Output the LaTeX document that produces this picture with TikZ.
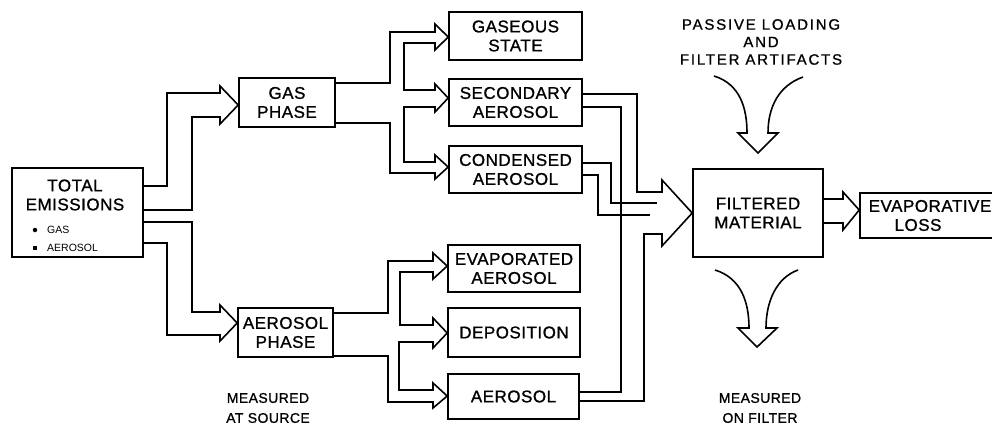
\documentclass[tikz,border=0pt]{standalone}
\usepackage{fontspec}
\setmainfont{Liberation Sans}
\newfontfamily\boxfont[LetterSpace=3,FakeBold=1]{Liberation Sans}
\newfontfamily\notefont[LetterSpace=12,FakeBold=1]{Liberation Sans}
\begin{document}
\begin{tikzpicture}[x=1pt,y=-1pt,
  flow/.style={line width=1.6pt, line join=miter},
  stage/.style={draw, line width=1.6pt, inner sep=0pt, align=center,
    font=\boxfont\fontsize{17}{19}\selectfont},
  caption/.style={inner sep=0pt, align=center, font=\boxfont\fontsize{14}{20}\selectfont},
  legend/.style={inner sep=0pt, anchor=west, font=\fontsize{10.5}{12}\selectfont}]
\useasboundingbox (0,0) rectangle (992,432);

% source box with its legend
\node[draw, line width=1.6pt, minimum width=131pt, minimum height=89pt] (tot) at (77.5,212.5) {};
\node[stage, draw=none] (totname) at (75,195) {TOTAL\\EMISSIONS};
\node[circle, fill, inner sep=0pt, minimum size=4.5pt] (gasdot) at (35,230) {};
\node[legend] (gastxt) at (47,230) {GAS};
\node[rectangle, fill, inner sep=0pt, minimum size=4pt] (aerdot) at (35,248) {};
\node[legend] (aertxt) at (47,248) {AEROSOL};

% phases
\node[stage, minimum width=96pt, minimum height=49pt] (gas) at (287,102.5) {GAS\\PHASE};
\node[stage, minimum width=95pt, minimum height=49pt] (aer) at (285.5,332.5) {AEROSOL\\PHASE};

% fates of the gas phase
\node[stage, minimum width=133pt, minimum height=48pt] (gs) at (515.5,36) {GASEOUS\\STATE};
\node[stage, minimum width=133pt, minimum height=47pt] (sec) at (515.5,102.5) {SECONDARY\\AEROSOL};
\node[stage, minimum width=133pt, minimum height=47pt] (con) at (515.5,169.5) {CONDENSED\\AEROSOL};

% fates of the aerosol phase
\node[stage, minimum width=132pt, minimum height=47pt] (eva) at (514,268.5) {EVAPORATED\\AEROSOL};
\node[stage, minimum width=132pt, minimum height=49pt] (dep) at (514,332.5) {DEPOSITION};
\node[stage, minimum width=131pt, minimum height=45pt] (aes) at (513.5,396.5) {AEROSOL};

% filter
\node[stage, minimum width=130pt, minimum height=88pt] (fil) at (758,213) {FILTERED\\MATERIAL};
\node[stage, minimum width=140pt, minimum height=45pt] (evl) at (930,215.5) {EVAPORATIVE\\LOSS\hspace*{24pt}};

% captions
\node[inner sep=0pt, align=center, font=\notefont\fontsize{15}{17.5}\selectfont] (passive) at (761,42) {PASSIVE LOADING\\AND\\FILTER ARTIFACTS};
\node[caption] (atsource) at (268,408) {MEASURED\\AT SOURCE};
\node[caption] (onfilter) at (760,408) {MEASURED\\ON FILTER};

% total emissions split into the two phases
\draw[flow] (tot.east |- 0,186) -| (167,93) -- (220,93) -- (220,86) -- (gas.west |- 0,105)
  -- (220,124) -- (220,117) -| (192,210) -- (tot.east |- 0,210);
\draw[flow] (tot.east |- 0,222) -| (192,312) -- (220,312) -- (220,305) -- (aer.west |- 0,323)
  -- (220,341) -- (220,335) -| (167,243) -- (tot.east |- 0,243);

% gas phase branches
\draw[flow] (gas.east |- 0,83) -| (390,32) -- (435,32) -- (435,24) -- (gs.west |- 0,37)
  -- (435,50) -- (435,43) -| (404,90) -- (435,90) -- (435,84) -- (sec.west |- 0,98)
  -- (435,112) -- (435,107) -| (404,162) -- (435,162) -- (435,155) -- (con.west |- 0,167)
  -- (435,179) -- (435,173) -| (390,123) -- (gas.east |- 0,123);

% aerosol phase branches
\draw[flow] (aer.east |- 0,313) -| (388,261) -- (433,261) -- (433,253) -- (eva.west |- 0,266)
  -- (433,279) -- (433,272) -| (400,325) -- (433,325) -- (433,318) -- (dep.west |- 0,333)
  -- (433,348) -- (433,342) -| (399,390) -- (433,390) -- (433,383) -- (aes.west |- 0,396)
  -- (433,408) -- (433,402) -| (388,356) -- (aer.east |- 0,356);

% collection onto the filter
\coordinate (condtop) at (657,203);
\coordinate (condbot) at (650,215);
\draw[flow] (sec.east |- 0,94) -| (637,192) -- (662,192) -- (662,180) -- (fil.west |- 0,213)
  -- (662,246) -- (662,234) -| (644,401) -- (aes.east |- 0,401);
\draw[flow] (sec.east |- 0,107) -| (621,392) -- (aes.east |- 0,392);
\draw[flow] (con.east |- 0,163) -| (611,203) -- (condtop);
\draw[flow] (con.east |- 0,175) -| (598,215) -- (condbot);

% evaporative loss from the filter
\draw[flow] (fil.east |- 0,199) -- (843,199) -- (843,192) -- (evl.west |- 0,210)
  -- (843,230) -- (843,223) -- (fil.east |- 0,223);

% curved arrows above and below the filter
\coordinate (pl) at (714,76);
\coordinate (pr) at (803,77);
\coordinate (ptip) at (758,153);
\draw[flow] (pl) .. controls (740,84) and (747,108) .. (747,133) -- (738,133) -- (ptip)
  -- (778,133) -- (768,133) .. controls (768,108) and (778,86) .. (pr);
\coordinate (ml) at (715,270);
\coordinate (mr) at (798,270);
\coordinate (mtip) at (757,347);
\draw[flow] (ml) .. controls (741,278) and (749,302) .. (749,328) -- (738,328) -- (mtip)
  -- (777,328) -- (766,328) .. controls (766,302) and (776,278) .. (mr);
\end{tikzpicture}
\end{document}
